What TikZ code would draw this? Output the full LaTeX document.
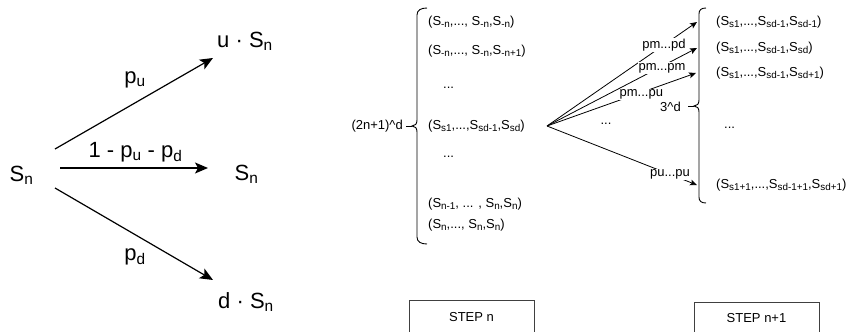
\documentclass[tikz,border=0pt]{standalone}
\usepackage{fontspec}
\usepackage{graphicx}
\setmainfont{Liberation Sans}
\usetikzlibrary{arrows.meta}
\newcommand\Sb[1]{S\raisebox{-0.3ex}{\scalebox{0.76}{#1}}}
\newcommand\Sbig[1]{S\textsubscript{#1}}
\begin{document}
\begin{tikzpicture}[x=1pt,y=-1pt,
  big/.style={font=\fontsize{22}{26}\selectfont, inner sep=0pt},
  sm/.style={font=\fontsize{13}{15}\selectfont, inner sep=0pt},
  bigarrow/.style={line width=1.2pt, -{Stealth[length=13pt,width=11pt,inset=3pt]}},
  smallarrow/.style={line width=0.8pt, -{Stealth[length=7pt,width=6pt,inset=1.5pt]}},
  lab/.style={sm, fill=white, inner sep=1pt},
  bracepath/.style={line width=0.9pt},
  stepbox/.style={draw=black!75, line width=0.9pt, minimum width=125pt, minimum height=33pt, anchor=north, font=\fontsize{13}{15}\selectfont}
]
\useasboundingbox (0,0) rectangle (847,332);
\clip (0,0) rectangle (847,332);

% left tree
\node[big] (sn) at (21.5,175) {\Sbig{n}};
\node[big] (us) at (245,41) {u · \Sbig{n}};
\node[big] (sm) at (246.5,174) {\Sbig{n}};
\node[big] (ds) at (246,302) {d · \Sbig{n}};

\draw[bigarrow] ([xshift=33.5pt,yshift=26pt]sn.center) -- node[big,pos=0.506,yshift=23pt]{p\textsubscript{u}} ([xshift=-32pt,yshift=-17pt]us.center);
\draw[bigarrow] ([xshift=38.5pt,yshift=7pt]sn.center) -- node[big,pos=0.51,yshift=16pt]{1 - p\textsubscript{u} - p\textsubscript{d}} ([xshift=-38.5pt,yshift=6pt]sm.center);
\draw[bigarrow] ([xshift=33.5pt,yshift=-13pt]sn.center) -- node[big,pos=0.506,yshift=-22.5pt]{p\textsubscript{d}} ([xshift=-33pt,yshift=22pt]ds.center);

% step n
\node[sm,anchor=east] (nn) at (403,126) {(2n+1)\textasciicircum d};
\draw[bracepath] (427,8) .. controls (421,8) and (417,10) .. (417,15) -- (417,120) .. controls (417,124) and (415,126) .. (412,126) .. controls (415,126) and (417,128) .. (417,132) -- (417,237) .. controls (417,242) and (421,244) .. (427,244);
\draw[bracepath] (412,126) -- (406,126);

\node[sm,anchor=west] (l1) at (428,22) {(\Sb{-n},..., \Sb{-n},\Sb{-n})};
\node[sm,anchor=west] (l2) at (428,51) {(\Sb{-n},..., \Sb{-n},\Sb{-n+1})};
\node[sm,anchor=west] (l3) at (443,88) {...};
\node[sm,anchor=west] (l4) at (428,126) {(\Sb{s1},...,\Sb{sd-1},\Sb{sd})};
\node[sm,anchor=west] (l5) at (443,157) {...};
\node[sm,anchor=west] (l6) at (428,204) {(\Sb{n-1}, ... , \Sb{n},\Sb{n})};
\node[sm,anchor=west] (l7) at (428,225) {(\Sb{n},..., \Sb{n},\Sb{n})};

% step n+1
\node[sm,anchor=west] (r1) at (716,22) {(\Sb{s1},...,\Sb{sd-1},\Sb{sd-1})};
\node[sm,anchor=west] (r2) at (716,48) {(\Sb{s1},...,\Sb{sd-1},\Sb{sd})};
\node[sm,anchor=west] (r3) at (716,73) {(\Sb{s1},...,\Sb{sd-1},\Sb{sd+1})};
\node[sm,anchor=west] (r4) at (724,128) {...};
\node[sm,anchor=west] (r5) at (716,185) {(\Sb{s1+1},...,\Sb{sd-1+1},\Sb{sd+1})};

\draw[bracepath] (706,8) .. controls (701,8) and (699,10) .. (699,14) -- (699,100) .. controls (699,104) and (697,106) .. (694,106) .. controls (697,106) and (699,108) .. (699,112) -- (699,197) .. controls (699,201) and (701,203) .. (706,203);
\draw[bracepath] (694,106) -- (688,106);
\node[sm,anchor=east] (td) at (681,107) {3\textasciicircum d};

\coordinate (fo) at (547,126);
\node[sm] (fd) at (606,124) {...};
\draw[smallarrow] (fo) -- node[lab,pos=0.78]{pm...pd} ([xshift=-19pt]r1.west);
\draw[smallarrow] (fo) -- node[lab,pos=0.767,yshift=-2pt]{pm...pm} ([xshift=-19pt]r2.west);
\draw[smallarrow] (fo) -- node[lab,pos=0.633,yshift=-2pt]{pm...pu} ([xshift=-20pt]r3.west);
\draw[smallarrow] (fo) -- node[lab,pos=0.82]{pu...pu} ([xshift=-19pt]r5.west);

% step boxes
\node[stepbox] (s1) at (471.5,300) {STEP n};
\node[stepbox,minimum height=31pt] (s2) at (756.5,302) {STEP n+1};
\end{tikzpicture}
\end{document}
